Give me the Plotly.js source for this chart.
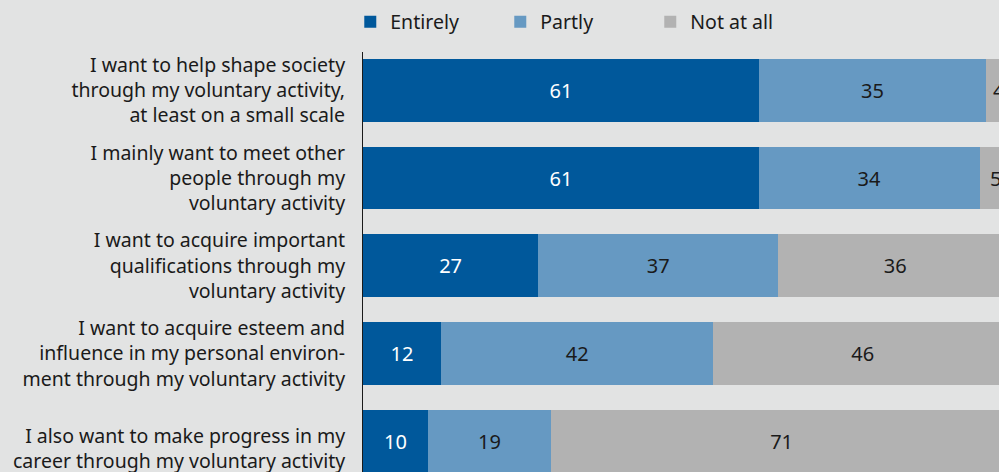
<!DOCTYPE html>
<html>
<head>
<meta charset="utf-8">
<script src="https://cdn.plot.ly/plotly-3.0.1.min.js"></script>
<style>html,body{margin:0;padding:0;background:#e2e3e3;}#chart{width:999px;height:472px;}</style>
</head>
<body>
<div id="chart"></div>
<script>
const categories = [
  "I want to help shape society<br>through my voluntary activity,<br>at least on a small scale",
  "I mainly want to meet other<br>people through my<br>voluntary activity",
  "I want to acquire important<br>qualifications through my<br>voluntary activity",
  "I want to acquire esteem and<br>influence in my personal environ-<br>ment through my voluntary activity",
  "I also want to make progress in my<br>career through my voluntary activity"
];
const seriesNames = ["Entirely", "Partly", "Not at all"];
const entirely = [61, 61, 27, 12, 10];
const partly = [35, 34, 37, 42, 19];
const notAtAll = [4, 5, 36, 46, 71];

const colors = ["#00589b", "#6699c2", "#b2b2b2"];
const textColors = ["#ffffff", "#1a1a1a", "#1a1a1a"];
const values = [entirely, partly, notAtAll];

const font = "Noto Sans, sans-serif";
const traces = values.map((v, i) => ({
  type: "bar",
  orientation: "h",
  name: seriesNames[i],
  y: categories,
  x: v,
  text: v.map(String),
  textposition: "inside",
  insidetextanchor: "middle",
  textangle: 0,
  constraintext: "none",
  textfont: {family: font, size: 20, color: textColors[i]},
  marker: {color: colors[i], line: {width: 0}},
  hoverinfo: "none",
  cliponaxis: true
}));

// The last label sits a little lower than its bar centre in the reference,
// so it is drawn as an annotation anchored to its category.
const lastCat = categories[categories.length - 1];

const layout = {
  width: 999, height: 472,
  barmode: "stack",
  bargap: 0.285,
  paper_bgcolor: "#e2e3e3",
  plot_bgcolor: "#e2e3e3",
  margin: {l: 363, r: 0, t: 52, b: 0, pad: 0},
  font: {family: font, size: 19.5, color: "#1a1a1a"},
  showlegend: true,
  legend: {
    orientation: "h", x: -0.02, xanchor: "left", y: 1.071, yanchor: "middle",
    font: {family: font, size: 19.5, color: "#1a1a1a"},
    entrywidth: 105, entrywidthmode: "pixels",
    traceorder: "normal", bgcolor: "rgba(0,0,0,0)"
  },
  xaxis: {range: [0, 98], visible: false, fixedrange: true},
  yaxis: {
    type: "category",
    categoryarray: categories, categoryorder: "array",
    tickmode: "array",
    tickvals: categories.slice(0, categories.length - 1),
    ticktext: categories.slice(0, categories.length - 1),
    range: [4.351, -0.437],
    showline: true, linecolor: "#1a1a1a", linewidth: 1,
    showgrid: false, zeroline: false, ticks: "",
    ticklabelstandoff: 13,
    tickfont: {family: font, size: 19.5, color: "#1a1a1a"}
  },
  annotations: [{
    text: lastCat, xref: "paper", x: 0, yref: "y", y: lastCat,
    xanchor: "right", yanchor: "middle", align: "right",
    xshift: -16, yshift: -7, showarrow: false,
    font: {family: font, size: 19.5, color: "#1a1a1a"}
  }]
};

Plotly.newPlot("chart", traces, layout, {displayModeBar: false, staticPlot: true});
</script>
</body>
</html>
